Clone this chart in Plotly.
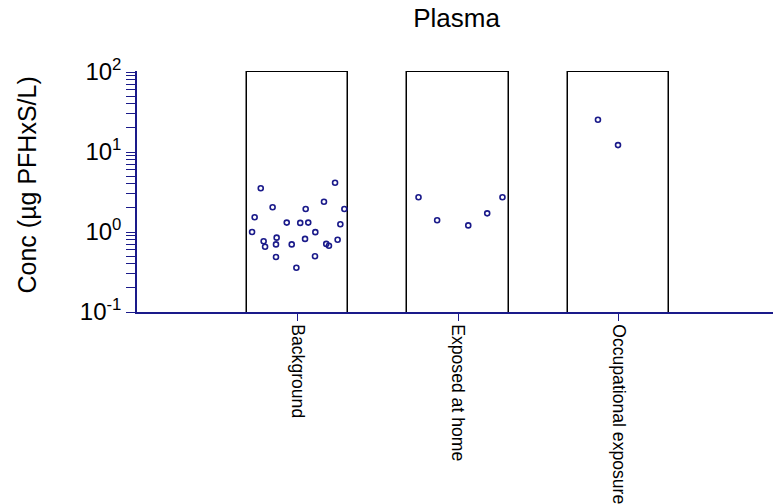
import plotly.graph_objects as go

categories = ["Background", "Exposed at home", "Occupational exposure"]
bar_top = [100, 100, 100]
bar_base = 0.09

background_vals = [3.52, 4.13, 2.04, 2.39, 1.94, 1.94, 1.53, 1.31, 1.30, 1.31, 1.25, 1.00, 0.996,
                   0.85, 0.82, 0.765, 0.80, 0.655, 0.70, 0.70, 0.71, 0.674, 0.487, 0.497, 0.358]
background_jit = [-0.229, 0.234, -0.155, 0.165, 0.051, 0.292, -0.267, -0.067, 0.017, 0.067, 0.267,
                  -0.283, 0.111, -0.130, 0.047, -0.211, 0.250, -0.202, -0.134, -0.036, 0.179, 0.196,
                  -0.134, 0.109, -0.007]
home_vals = [2.72, 1.40, 1.21, 1.71, 2.72]
home_jit = [-0.246, -0.130, 0.064, 0.182, 0.277]
occ_vals = [25.3, 12.2]
occ_jit = [-0.128, -0.003]

y_decades = [-1, 0, 1, 2]
y_tick_text = ["10<sup>-1</sup>", "10<sup>0</sup>", "10<sup>1</sup>", "10<sup>2</sup>"]

navy = "#1a1a8a"
font = "Liberation Sans, Arial, sans-serif"

major_ticks = [10.0 ** d for d in y_decades]
minor_ticks = [10.0 ** d * m for d in y_decades[:-1] for m in range(2, 10)]

fig = go.Figure()
fig.add_trace(go.Bar(
    x=list(range(len(categories))),
    y=[t - bar_base for t in bar_top],
    base=[bar_base] * len(categories),
    width=0.63,
    marker=dict(color="white", line=dict(color="black", width=1.5)),
    showlegend=False, hoverinfo="skip",
))

groups = [background_vals, home_vals, occ_vals]
jits = [background_jit, home_jit, occ_jit]
for i, (vals, jit) in enumerate(zip(groups, jits)):
    fig.add_trace(go.Scatter(
        x=[i + j for j in jit], y=vals, mode="markers",
        marker=dict(symbol="circle-open", size=5, color=navy, line=dict(width=1.6, color=navy)),
        showlegend=False, cliponaxis=False,
    ))

top_extra = 0.0125  # decades above 10^2 so bar tops are not clipped
plot_h = 240 * (3 + top_extra) / 3
t_m = 72 - 240 * top_extra / 3
l_m = 137
fig.update_layout(
    width=773, height=504,
    margin=dict(l=l_m, r=773 - l_m - 636, t=t_m, b=504 - t_m - plot_h, autoexpand=False),
    paper_bgcolor="white", plot_bgcolor="white",
    font=dict(family=font, color="black"),
    title=dict(text="Plasma", x=456.5 / 773, xref="container", xanchor="center",
               y=1 - 18 / 504, yref="container", yanchor="middle",
               font=dict(size=26, family=font, color="black")),
    xaxis=dict(
        range=[-1, -1 + 636 / 160.5], tickmode="array", tickvals=list(range(len(categories))),
        ticktext=categories, tickangle=90, ticks="outside", ticklen=7, tickcolor=navy,
        tickwidth=1.2, showline=True, linecolor=navy, linewidth=1.5, showgrid=False,
        zeroline=False, automargin=False, tickfont=dict(size=17.6, family=font, color="black"),
    ),
    yaxis=dict(
        type="log", range=[-1, 2 + top_extra], tickmode="array", tickvals=major_ticks, ticktext=y_tick_text,
        ticks="outside", ticklen=9, tickcolor=navy, tickwidth=1.2,
        minor=dict(tickmode="array", tickvals=minor_ticks, ticks="outside", ticklen=9,
                   tickcolor=navy, tickwidth=1.2, showgrid=False),
        showline=True, linecolor=navy, linewidth=1.5, showgrid=False, zeroline=False,
        automargin=False, tickfont=dict(size=24, family=font, color="black"),
    ),
    annotations=[dict(
        text="Conc (µg PFHxS/L)", textangle=-90, xref="paper", yref="paper",
        x=(26 - 137) / 636, y=(312 - 185.5) / plot_h, xanchor="center", yanchor="middle",
        showarrow=False, font=dict(size=25, family=font, color="black"),
    )],
    bargap=0,
)

fig.write_html("out.html", config={"displayModeBar": False},
               post_script="document.body.style.margin='0';")
